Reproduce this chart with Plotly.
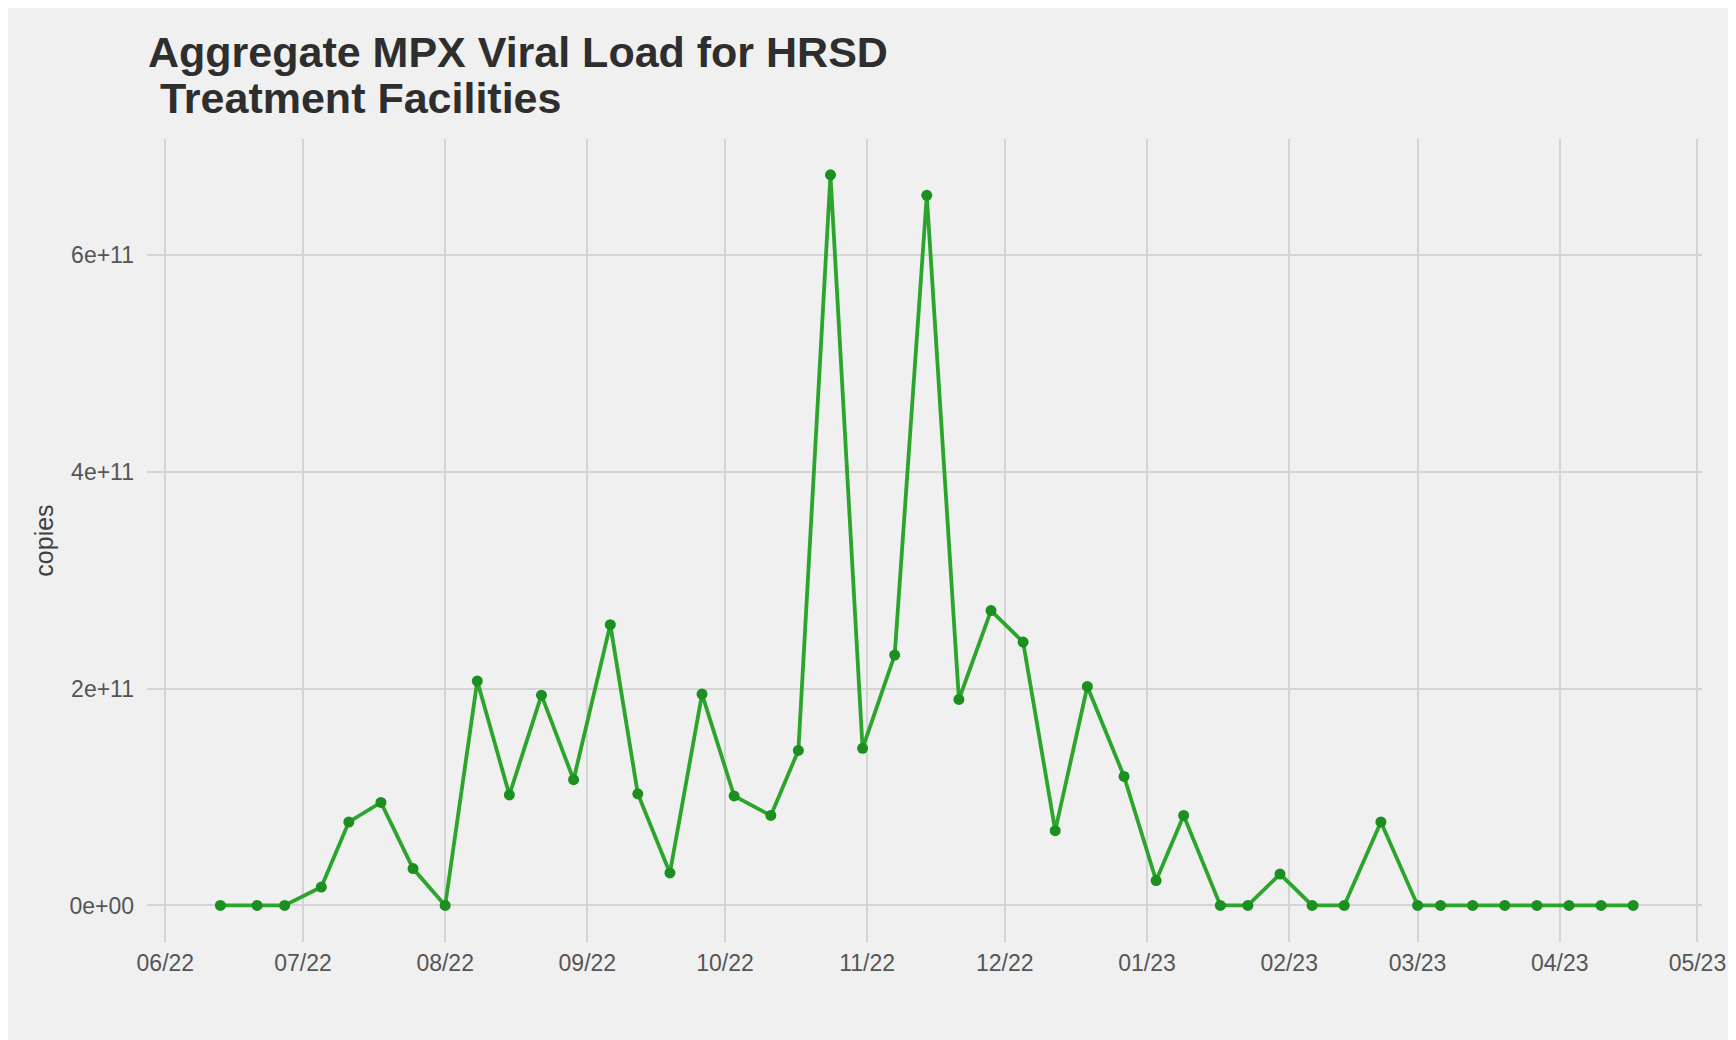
import plotly.graph_objects as go

dates = [
    "2022-06-13", "2022-06-21", "2022-06-27", "2022-07-05", "2022-07-11", "2022-07-18",
    "2022-07-25", "2022-08-01", "2022-08-08", "2022-08-15", "2022-08-22", "2022-08-29",
    "2022-09-06", "2022-09-12", "2022-09-19", "2022-09-26", "2022-10-03", "2022-10-11",
    "2022-10-17", "2022-10-24", "2022-10-31", "2022-11-07", "2022-11-14", "2022-11-21",
    "2022-11-28", "2022-12-05", "2022-12-12", "2022-12-19", "2022-12-27", "2023-01-03",
    "2023-01-09", "2023-01-17", "2023-01-23", "2023-01-30", "2023-02-06", "2023-02-13",
    "2023-02-21", "2023-03-01", "2023-03-06", "2023-03-13", "2023-03-20", "2023-03-27",
    "2023-04-03", "2023-04-10", "2023-04-17",
]
copies = [
    0, 0, 0, 0.17e11, 0.77e11, 0.95e11,
    0.34e11, 0, 2.07e11, 1.02e11, 1.94e11, 1.16e11,
    2.59e11, 1.03e11, 0.30e11, 1.95e11, 1.01e11, 0.83e11,
    1.43e11, 6.74e11, 1.45e11, 2.31e11, 6.55e11, 1.90e11,
    2.72e11, 2.43e11, 0.69e11, 2.02e11, 1.19e11, 0.23e11,
    0.83e11, 0, 0, 0.29e11, 0, 0,
    0.77e11, 0, 0, 0, 0, 0,
    0, 0, 0,
]

x_tick_dates = ["2022-06-01", "2022-07-01", "2022-08-01", "2022-09-01", "2022-10-01",
                "2022-11-01", "2022-12-01", "2023-01-01", "2023-02-01", "2023-03-01",
                "2023-04-01", "2023-05-01"]
x_tick_labels = ["06/22", "07/22", "08/22", "09/22", "10/22", "11/22", "12/22",
                 "01/23", "02/23", "03/23", "04/23", "05/23"]
y_tick_vals = [0, 2e11, 4e11, 6e11]
y_tick_labels = ["0e+00", "2e+11", "4e+11", "6e+11"]

title_lines = ["Aggregate MPX Viral Load for HRSD", "\u00a0Treatment Facilities"]
y_title = "copies"

W, H = 1736, 1040
ML, MR, MT, MB = 139, 42, 131, 106
plot_h = H - MT - MB
plot_w = W - ML - MR

fig = go.Figure()
fig.add_trace(go.Scatter(
    x=dates, y=copies, mode="lines+markers",
    line=dict(color="#2ca52c", width=3.8),
    marker=dict(color="#1b8f1f", size=11),
    showlegend=False,
))

font_family = "Liberation Sans, Arial, sans-serif"
title_centers_px = [44, 90]
for line, cy in zip(title_lines, title_centers_px):
    fig.add_annotation(
        text=line, xref="paper", yref="paper",
        x=(138 - ML) / plot_w, y=(H - MB - cy) / plot_h,
        xanchor="left", yanchor="middle", showarrow=False,
        font=dict(size=43, color="#2e2e2e", family=font_family, weight="bold"),
    )

bg = "#f0f0f0"
grid = "#d4d4d4"
fig.update_layout(
    width=W, height=H, autosize=False,
    paper_bgcolor=bg, plot_bgcolor=bg,
    margin=dict(l=ML, r=MR, t=MT, b=MB),
    font=dict(family=font_family, color="#4d4d4d"),
    xaxis=dict(
        range=["2022-05-28", "2023-05-02"],
        tickmode="array", tickvals=x_tick_dates, ticktext=x_tick_labels,
        showgrid=True, gridcolor=grid, gridwidth=1.5, zeroline=False,
        showline=False, ticks="", ticklabelstandoff=5,
        tickfont=dict(size=23, color="#555555"),
    ),
    yaxis=dict(
        range=[-0.337e11, 7.07e11],
        tickmode="array", tickvals=y_tick_vals, ticktext=y_tick_labels,
        showgrid=True, gridcolor=grid, gridwidth=1.5, zeroline=False,
        showline=False, ticks="", ticklabelstandoff=12,
        tickfont=dict(size=23, color="#555555"),
        title=dict(text=y_title, font=dict(size=25, color="#404040"), standoff=8),
    ),
)

fig.write_html("out.html")
